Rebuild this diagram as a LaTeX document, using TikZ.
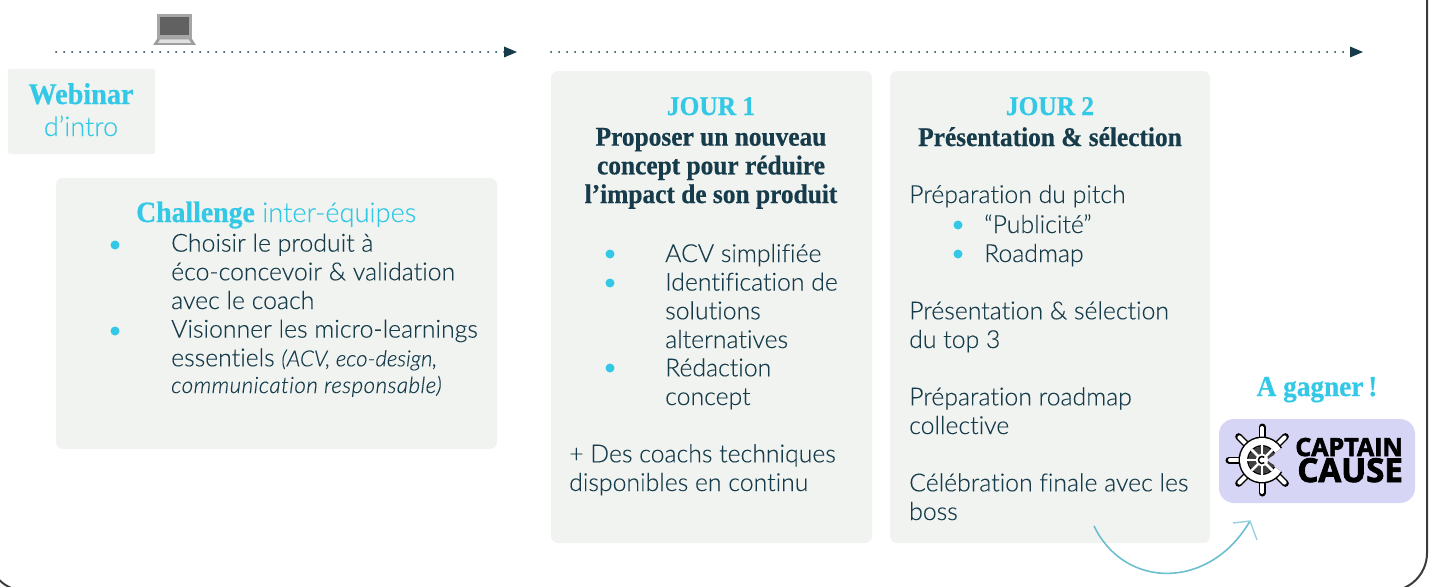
\documentclass[tikz,border=0pt]{standalone}
\usepackage{fontspec}
\setmainfont{Lato Light}[Ligatures=NoCommon,FakeBold=0.2]
\newfontfamily\headfont{Liberation Serif}[FakeStretch=0.94,BoldFeatures={FakeBold=0.6}]
\newfontfamily\logofont{Open Sans}[BoldFeatures={FakeBold=2.5}]
\usepackage{xcolor}
\definecolor{sky}{HTML}{33C9E6}
\definecolor{ink}{HTML}{163B4B}
\definecolor{panel}{HTML}{F0F3EF}
\definecolor{lilac}{HTML}{D6D5F5}
\definecolor{teal}{HTML}{6CBFD0}
\definecolor{frame}{HTML}{3A3A3A}
\usetikzlibrary{arrows.meta, positioning, calc}

\begin{document}
\begin{tikzpicture}[
    x=1pt, y=-1pt,
    panelbox/.style={fill=panel, rounded corners=7pt, draw=none},
    bodytext/.style={anchor=base west, inner sep=0pt, text=ink, align=left, font=\fontsize{24.8}{28.7}\selectfont},
    headline/.style={anchor=base, inner sep=0pt, align=center, font=\headfont\bfseries\fontsize{27}{28.7}\selectfont},
    bulletdot/.style={circle, fill=sky, inner sep=0pt, minimum size=9pt},
    timeline/.style={draw=ink, line width=2pt, line cap=round, dash pattern=on 0pt off 8pt},
    tiphead/.style={fill=ink, draw=none},
    spoke/.style={line cap=round}
    ]
    \useasboundingbox (0,0) rectangle (1431,586);

    % outer frame
    \begin{scope}
    \clip (0,0) rectangle (1431,586);
    \draw[frame, line width=2pt, rounded corners=38pt] (-12,-60) rectangle (1427,591);
    \end{scope}

    % panels
    \fill[panelbox, rounded corners=2pt] (8,69) rectangle (155,154);
    \fill[panelbox] (56,178) rectangle (497,449);
    \fill[panelbox] (551,71) rectangle (872,543);
    \fill[panelbox] (890,71) rectangle (1210,543);
    \fill[lilac, rounded corners=15pt] (1219,419) rectangle (1415,503);

    % timelines
    \coordinate (t1a) at (56,52);
    \coordinate (t1b) at (504,52);
    \coordinate (t2a) at (551,52);
    \coordinate (t2b) at (1350,52);
    \draw[timeline] (t1a) -- (t1b);
    \draw[timeline] (t2a) -- (t2b);
    \foreach \tip in {t1b,t2b}
        \fill[tiphead] (\tip) ++(0,-5.5) -- ++(13,5.5) -- ++(-13,5.5) -- cycle;

    % laptop
    \fill[black!35] (157,14) rectangle (192,39);
    \fill[black!62] (160,17) rectangle (189,35);
    \fill[black!38] (157,39) -- (192,39) -- (196,45) -- (153,45) -- cycle;
    \fill[black!12] (160,39.5) -- (189,39.5) -- (191,43) -- (158,43) -- cycle;

    % webinar
    \node[headline, text=sky, font=\headfont\bfseries\fontsize{30}{30}\selectfont] (webinar) at (81,104) {Webinar};
    \node[bodytext, anchor=base, text=sky, font=\fontsize{27}{30}\selectfont] (intro) at (81,136) {d’intro};

    % challenge
    \node[bodytext, text=sky, font=\fontsize{27.2}{30}\selectfont] (challenge) at (136,222) {{\headfont\bfseries\fontsize{29.5}{30}\selectfont Challenge} inter-équipes};
    \node[bodytext] (chosen) at (171,309) {Choisir le produit à\\éco-concevoir \& validation\\avec le coach};
    \node[bodytext] (watch) at (171,393) {Visionner les micro-learnings\\essentiels {\itshape\fontsize{22.2}{26}\selectfont (ACV, eco-design,}\\[-2pt]{\itshape\fontsize{22.5}{26}\selectfont\addfontfeature{LetterSpace=1.9}communication responsable)}};
    \node[bulletdot] (b1) at (115,245) {};
    \node[bulletdot] (b2) at (115,331) {};

    % jour 1
    \node[headline, text=sky] (jourun) at (711,115) {JOUR 1};
    \node[headline, text=ink] (titleun) at (711,203) {Proposer un nouveau\\concept pour réduire\\l’impact de son produit};
    \node[bodytext] (acv) at (665,262) {ACV simplifiée};
    \node[bodytext] (ident) at (665,348) {Identification de\\solutions\\alternatives};
    \node[bodytext] (redac) at (665,405) {Rédaction\\concept};
    \node[bodytext] (coachs) at (569,491) {+ Des coachs techniques\\disponibles en continu};
    \foreach \i/\ypos in {3/254,4/283,5/368}
        \node[bulletdot] (b\i) at (610,\ypos) {};

    % jour 2
    \node[headline, text=sky] (jourdeux) at (1050,115) {JOUR 2};
    \node[headline, text=ink] (titledeux) at (1050,146) {Présentation \& sélection};
    \node[bodytext] (pitch) at (909,203) {Préparation du pitch};
    \node[bodytext] (pub) at (984,233) {“Publicité”};
    \node[bodytext] (road) at (984,262) {Roadmap};
    \node[bodytext] (top) at (909,348) {Présentation \& sélection\\du top 3};
    \node[bodytext] (coll) at (909,434) {Préparation roadmap\\collective};
    \node[bodytext] (boss) at (909,520) {Célébration finale avec les\\boss};
    \foreach \i/\ypos in {6/225,7/254}
        \node[bulletdot] (b\i) at (958,\ypos) {};

    % prize
    \node[headline, text=sky, font=\headfont\bfseries\fontsize{29}{30}\selectfont] (gagner) at (1317,396) {A gagner\,!};
    \coordinate (helm) at (1262,460);
    \foreach \a in {45,90,...,315}
        \draw[spoke, black, line width=7pt] (helm) -- ++(-\a:33);
    \foreach \a in {45,90,...,315}
        \draw[spoke, white, line width=4pt] (helm) -- ++(-\a:32);
    \draw[black, line width=10pt] (helm) ++(30:18.5) arc[start angle=30, end angle=330, radius=18.5];
    \draw[white, line width=7pt] (helm) ++(30:18.5) arc[start angle=30, end angle=330, radius=18.5];
    \draw[black!75, line width=7pt] (helm) ++(20:10) arc[start angle=20, end angle=340, radius=10];
    \foreach \a in {45,90,...,315}
        \draw[white, line width=2.5pt] (helm) -- ++(-\a:15);
    \fill[white] (helm) circle[radius=6];
    \draw[black, line width=1.5pt] (helm) ++(50:3.5) arc[start angle=50, end angle=310, radius=3.5];
    \node[anchor=base east, inner sep=0pt, font=\logofont\bfseries\fontsize{25}{25}\selectfont] (captain) at (1403,456) {CAPTAIN};
    \node[anchor=base east, inner sep=0pt, font=\logofont\bfseries\fontsize{33}{33}\selectfont] (cause) at (1403,482) {CAUSE};

    % arrow to the prize
    \coordinate (bendstart) at (1094,526);
    \coordinate (bendend) at (1250,521);
    \coordinate (barbl) at (1233,523);
    \coordinate (barbr) at (1257,540);
    \draw[teal, line width=1.6pt] (bendstart) .. controls (1125,590) and (1210,590) .. (bendend);
    \draw[teal!70, line width=1.4pt] (barbl) -- (bendend) -- (barbr);
\end{tikzpicture}
\end{document}
